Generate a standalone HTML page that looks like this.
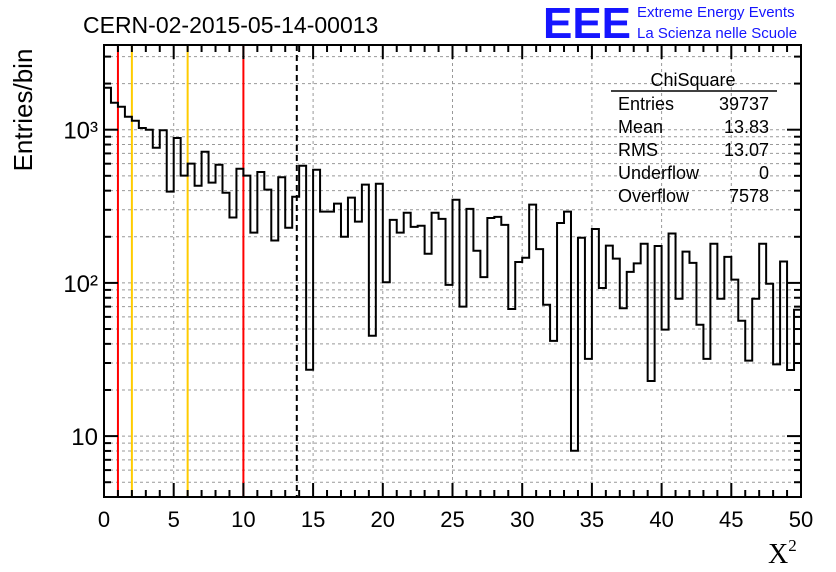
<!DOCTYPE html>
<html><head><meta charset="utf-8"><style>
html,body{margin:0;padding:0;background:#fff;}
svg{display:block;font-family:"Liberation Sans",sans-serif;}
</style></head><body>
<svg id="c" width="836" height="572" viewBox="0 0 836 572">
  <text x="83" y="33" font-size="23">CERN-02-2015-05-14-00013</text>
  <text x="543" y="38" font-size="44" font-weight="bold" fill="#1515ff" textLength="88" lengthAdjust="spacingAndGlyphs">EEE</text>
  <text x="637" y="17" font-size="15" fill="#1515ff">Extreme Energy Events</text>
  <text x="637" y="38" font-size="15" fill="#1515ff">La Scienza nelle Scuole</text>
  <text transform="translate(32,110) rotate(-90)" text-anchor="middle" font-size="26">Entries/bin</text>
  <text x="768" y="563" font-size="28" font-family="Liberation Serif,serif">X<tspan font-size="17" dy="-12">2</tspan></text>
  <g id="grid"></g><g id="marks"></g><g id="axes"></g>
  <g font-size="18">
    <text x="693" y="86" text-anchor="middle">ChiSquare</text>
    <line x1="611" y1="91" x2="777" y2="91" stroke="#000" stroke-width="1.5"/>
    <text x="618" y="110">Entries</text><text x="769" y="110" text-anchor="end">39737</text>
    <text x="618" y="133">Mean</text><text x="769" y="133" text-anchor="end">13.83</text>
    <text x="618" y="156">RMS</text><text x="769" y="156" text-anchor="end">13.07</text>
    <text x="618" y="179">Underflow</text><text x="769" y="179" text-anchor="end">0</text>
    <text x="618" y="202">Overflow</text><text x="769" y="202" text-anchor="end">7578</text>
  </g>
</svg>
<script>
const binCounts = [1879,1500,1413,1216,1145,1026,1000,763,991,394,
883,501,600,431,718,451,591,388,267,556,
501,213,530,406,189,489,229,365,582,27.1,
548,292,292,329,200,360,251,438,45.2,444,
101,258,213,287,232,236,155,287,262,97,
349,70,304,162,109,265,270,239,67.6,137,
146,324,166,72,41.8,246,292,8.03,197,31.9,
225,92.7,175,144,68.3,118,134,180,22.9,174,
49.5,210,78.8,160,135,53.3,31.9,180,78.8,148,
105,56.6,31.1,78.8,180,98.8,29.4,138,27,66.8];
const binWidth = 0.5;
const xTicks = [0,5,10,15,20,25,30,35,40,45,50];
const yDecades = [10,100,1000];
const yDecadeLabels = ["10","10²","10³"];
const cutLines = [{x:1,c:"#ff0000"},{x:10,c:"#ff0000"},{x:2,c:"#ffcc00"},{x:6,c:"#ffcc00"}];
const meanLine = 13.83;

const X0=104,X1=801,Y0=45,Y1=497;
const xMin=0,xMax=50;
const y3=129.7,dec=153.2;
const xs=v=>X0+(v-xMin)/(xMax-xMin)*(X1-X0);
const ys=v=>y3+(3-Math.log10(v))*dec;
const NS="http://www.w3.org/2000/svg";
function mk(t,a,p){const e=document.createElementNS(NS,t);for(const k in a)e.setAttribute(k,a[k]);p.appendChild(e);return e;}
const grid=document.getElementById('grid'),marks=document.getElementById('marks'),axes=document.getElementById('axes');
const yLo=Math.pow(10,3-(Y1-y3)/dec), yHi=Math.pow(10,3+(y3-Y0)/dec);
// grid
xTicks.forEach(t=>{if(t>xMin&&t<xMax){const g=mk('line',{x1:xs(t),x2:xs(t),y1:Y0,y2:Y1,stroke:'#999','stroke-dasharray':'3,3','stroke-width':1},grid);
}});
for(let d=1;d<=1000;d*=10){for(let m=1;m<10;m++){const v=d*m;if(v<=yLo||v>=yHi)continue;const y=ys(v);
const g=mk('line',{x1:X0,x2:X1,y1:y,y2:y,stroke:'#999','stroke-dasharray':'3,3','stroke-width':1},grid);

const l=m===1?14:7;
mk('line',{x1:X0,x2:X0+l,y1:y,y2:y,stroke:'#000','stroke-width':2},axes);
mk('line',{x1:X1,x2:X1-l,y1:y,y2:y,stroke:'#000','stroke-width':2},axes);}}
// cut lines
cutLines.forEach(c=>{const l=mk('line',{x1:xs(c.x),x2:xs(c.x),y1:Y0,y2:Y1,stroke:c.c,'stroke-width':2},marks);
});
const ml=mk('line',{x1:xs(meanLine),x2:xs(meanLine),y1:Y0,y2:Y1,stroke:'#000','stroke-width':2,'stroke-dasharray':'6,4'},marks);

// histogram
let d='';binCounts.forEach((v,i)=>{const xa=xs(i*binWidth),xb=xs((i+1)*binWidth),y=Math.min(Y1,Math.max(Y0,ys(v)));
d+=(i===0?'M'+xa+','+y:'L'+xa+','+y)+'L'+xb+','+y;});
const h=mk('path',{d:d,fill:'none',stroke:'#000','stroke-width':2},marks);

// frame
const f=mk('rect',{x:X0,y:Y0,width:X1-X0,height:Y1-Y0,fill:'none',stroke:'#000','stroke-width':2},axes);

for(let t=xMin;t<=xMax;t++){const l=t%5===0?14:7;
mk('line',{x1:xs(t),x2:xs(t),y1:Y1,y2:Y1-l,stroke:'#000','stroke-width':2},axes);
mk('line',{x1:xs(t),x2:xs(t),y1:Y0,y2:Y0+l,stroke:'#000','stroke-width':2},axes);}
xTicks.forEach(t=>{const tx=mk('text',{x:xs(t),y:527,'text-anchor':'middle','font-size':22},axes);tx.textContent=t;
});
yDecades.forEach((v,i)=>{const tx=mk('text',{x:98,y:ys(v)+9,'text-anchor':'end','font-size':24},axes);tx.textContent=yDecadeLabels[i];
});
</script>
</body></html>
